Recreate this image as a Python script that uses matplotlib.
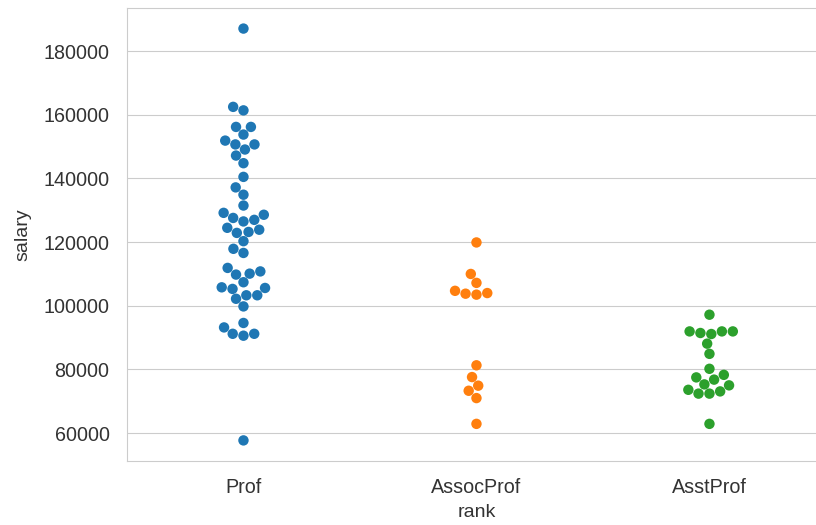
import matplotlib
matplotlib.use("Agg")
import matplotlib.pyplot as plt
import numpy as np
import pandas as pd
import seaborn as sns

# salaries by academic rank
prof = [187100, 162500, 161400, 156200, 156200, 153800, 151900, 150700, 150700,
        149100, 147200, 144800, 140500, 137200, 134900, 131500, 129200, 128600,
        127600, 127000, 126500, 124500, 123900, 123200, 122900, 120300, 117900,
        116600, 111900, 110800, 110100, 109800, 107400, 105800, 105600, 105300,
        103300, 103300, 102200, 99800, 94600, 93200, 91200, 91200, 90600, 57700]
assoc_prof = [119900, 110000, 107200, 104700, 104000, 103800, 103500, 81300,
              77600, 74900, 73300, 71000, 62900]
asst_prof = [97200, 91950, 91950, 91950, 91450, 91130, 88100, 84900, 80200,
             78300, 77500, 76800, 75300, 75000, 73600, 73100, 72400, 72400, 62900]

ranks = ["Prof", "AssocProf", "AsstProf"]

df = pd.DataFrame({
    "rank": ["Prof"] * len(prof) + ["AssocProf"] * len(assoc_prof) + ["AsstProf"] * len(asst_prof),
    "salary": prof + assoc_prof + asst_prof,
})

sns.set_style("whitegrid")
plt.rcParams["font.family"] = ["Liberation Sans", "DejaVu Sans"]
plt.rcParams["font.size"] = 14

fig = plt.figure(figsize=(8.16, 5.25), dpi=100)
ax = fig.add_axes([0.1556, 0.1219, 0.8566, 0.8629])

sns.swarmplot(data=df, x="rank", y="salary", hue="rank", order=ranks,
              palette=["#1f77b4", "#ff7f0e", "#2ca02c"], size=7.5,
              legend=False, ax=ax)

ax.tick_params(axis="both", labelsize=14.2, labelcolor="#333333", pad=9)
ax.set_xlabel("rank", fontsize=14, color="#333333", labelpad=5)
ax.set_ylabel("salary", fontsize=14, color="#333333", labelpad=9)
ax.set_xlim(-0.5, 2.5)

fig.savefig("out.png", dpi=100)
